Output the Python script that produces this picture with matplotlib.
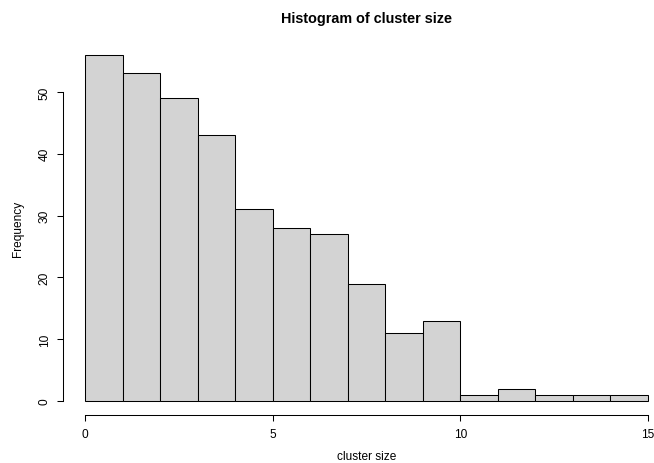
import numpy as np
import matplotlib
matplotlib.use('Agg')
import matplotlib.pyplot as plt

# bin edges and counts of the cluster-size histogram
breaks = np.arange(0, 16, 1)
counts = [56, 53, 49, 43, 31, 28, 27, 19, 11, 13, 1, 2, 1, 1, 1]
xticks = [0, 5, 10, 15]
yticks = [0, 10, 20, 30, 40, 50]

plt.rcParams['font.family'] = ['Liberation Sans', 'DejaVu Sans']

W, H = 654, 464
fig = plt.figure(figsize=(W/100, H/100), dpi=100)
# plot region in pixels: x 62.5..670.5, y 42..416 (R style 4% padding)
ax = fig.add_axes([62.5/W, 1-416/H, 608/W, 374/H])

ax.hist(breaks[:-1], bins=breaks, weights=counts, color='#d3d3d3',
        edgecolor='black', linewidth=0.75)

ax.set_xlim(-0.6, 15.6)
ax.set_ylim(-2.24, 58.24)

for s in ['top', 'right']:
    ax.spines[s].set_visible(False)
ax.spines['left'].set_bounds(0, 50)
ax.spines['bottom'].set_bounds(0, 15)
ax.spines['left'].set_linewidth(0.75)
ax.spines['bottom'].set_linewidth(0.75)

ax.set_xticks(xticks)
ax.set_yticks(yticks)
ax.set_yticklabels([str(v) for v in yticks], rotation=90, va='center')
ax.tick_params(direction='out', length=4.5, width=0.75, labelsize=8.6)
ax.tick_params(axis='x', pad=5)
ax.tick_params(axis='y', pad=4)

ax.set_xlabel('cluster size', fontsize=8.6, labelpad=7)
ax.set_ylabel('Frequency', fontsize=8.6)
ax.yaxis.set_label_coords(-(62.5-24)/608, 0.5)
fig.text(0.5*(62.5+670.5)/W, 1-19/H, 'Histogram of cluster size',
         ha='center', va='center', fontsize=10.4, fontweight='bold')

fig.savefig('out.png', dpi=100)
